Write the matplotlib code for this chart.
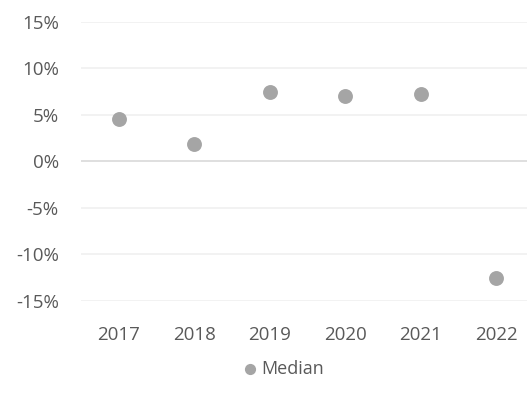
import matplotlib.pyplot as plt
from matplotlib.ticker import FuncFormatter

years = ["2017", "2018", "2019", "2020", "2021", "2022"]
median = [4.6, 1.9, 7.5, 7.0, 7.3, -12.5]
yticks = [-15, -10, -5, 0, 5, 10, 15]

plt.rcParams['font.family'] = ['Open Sans', 'DejaVu Sans']

fig = plt.figure(figsize=(5.27, 4.05), dpi=100)
ax = fig.add_axes([0.1537, 0.2568, 0.8596, 0.6889])

x = range(len(years))
ax.scatter(x, median, s=115, color="#A5A5A5", zorder=3, label="Median", linewidths=0)

ax.set_xlim(-0.5, len(years) - 0.5)
ax.set_ylim(-15, 15)
ax.set_yticks(yticks)
ax.yaxis.set_major_formatter(FuncFormatter(lambda v, p: f"{v:.0f}%"))
ax.set_xticks(list(x))
ax.set_xticklabels(years)

# gridlines
for t in yticks:
    ax.axhline(t, color="#D9D9D9" if t == 0 else "#F0F0F0", lw=1.2, zorder=1)

for s in ax.spines.values():
    s.set_visible(False)
ax.tick_params(length=0, labelsize=13.5, labelcolor="#595959")
ax.tick_params(axis="y", pad=16)
ax.tick_params(axis="x", pad=18)

fig.legend(loc="center", bbox_to_anchor=(0.527, 1 - 369 / 405), frameon=False,
           fontsize=13, labelcolor="#595959", handletextpad=-0.4,
           markerscale=0.75, borderpad=0)

fig.savefig("out.png", dpi=100)
